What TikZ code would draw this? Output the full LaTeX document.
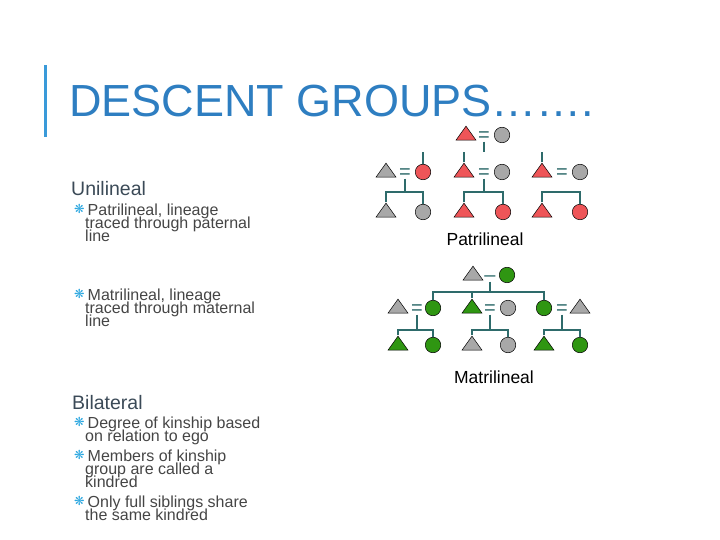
\documentclass[tikz,border=0pt]{standalone}
\usepackage{fontspec}
\setmainfont{Liberation Sans}
\newfontfamily\symfont{DejaVu Sans}
\usetikzlibrary{shapes.geometric}
\setlength{\lineskiplimit}{-20pt}

\definecolor{titleblue}{HTML}{2E7EC1}
\definecolor{barblue}{HTML}{3A9AD9}
\definecolor{bulblue}{HTML}{2AA6DF}
\definecolor{headgray}{HTML}{3B4A57}
\definecolor{bodygray}{HTML}{454545}
\definecolor{kin}{HTML}{2E6B6B}
\definecolor{kred}{HTML}{EE5558}
\definecolor{kgray}{HTML}{A8A8A8}
\definecolor{kgreen}{HTML}{2F9612}

\newcommand{\bul}{\llap{\raisebox{1.2pt}{\textcolor{bulblue}{\symfont\fontsize{12.5}{12.5}\selectfont ❋}}\hspace{0.5pt}}\hspace{2.5pt}}

\tikzset{
  male/.style={isosceles triangle, isosceles triangle stretches, shape border rotate=90,
    minimum width=20pt, minimum height=14pt, inner sep=0pt, draw=black, line width=0.5pt},
  female/.style={circle, minimum size=15.5pt, inner sep=0pt, draw=black, line width=0.5pt},
  wed/.style={text=kin, font=\fontsize{20}{20}\selectfont, inner sep=0pt,
    text height=13pt, text depth=0pt},
  kinline/.style={draw=kin, line width=1.1pt},
  headtext/.style={anchor=base west, inner sep=0pt, text=headgray,
    font=\fontsize{19.5}{19.5}\selectfont},
  itemtext/.style={anchor=north west, inner sep=0pt, align=left, text=bodygray,
    font=\fontsize{16}{13.4}\selectfont},
  treename/.style={anchor=base, inner sep=0pt, font=\fontsize{17.5}{17.5}\selectfont}
}

\begin{document}
\begin{tikzpicture}[x=1pt,y=-1pt]
\useasboundingbox (0,0) rectangle (720,540);

\fill[barblue] (43.5,65) rectangle (46.5,137);
\node[anchor=base west, inner sep=0pt, text=titleblue, font=\fontsize{45}{45}\selectfont]
  (title) at (69,117) {DESCENT GROUPS…….};

\node[headtext] (uni) at (71,196) {Unilineal};
\node[itemtext] (patri) at (85,203.4) {\bul Patrilineal, lineage\\traced through paternal\\line};
\node[itemtext] (matri) at (85,288.4) {\bul Matrilineal, lineage\\traced through maternal\\line};

\node[headtext] (bil) at (72,409) {Bilateral};
\node[itemtext] (degree) at (85,416.4) {\bul Degree of kinship based\\on relation to ego};
\node[itemtext] (members) at (85,449.4) {\bul Members of kinship\\group are called a\\kindred};
\node[itemtext] (only) at (85,495.4) {\bul Only full siblings share\\the same kindred};

% patrilineal
\def\ya{135}
\def\yb{172}
\def\yc{212}
\def\yj{152}
\def\yk{192}

\node[male, fill=kred] (pta) at (466,\ya) {};
\node[wed] (ptw) at (484,\ya) {=};
\node[female, fill=kgray] (ptb) at (502,\ya) {};

\node[male, fill=kgray] (pla) at (386,\yb) {};
\node[wed] (plw) at (405,\yb) {=};
\node[female, fill=kred] (plb) at (423,\yb) {};
\node[male, fill=kred] (pma) at (464,\yb) {};
\node[wed] (pmw) at (484,\yb) {=};
\node[female, fill=kgray] (pmb) at (502,\yb) {};
\node[male, fill=kred] (pra) at (542,\yb) {};
\node[wed] (prw) at (562,\yb) {=};
\node[female, fill=kgray] (prb) at (580,\yb) {};

\node[male, fill=kgray] (plc) at (386,\yc) {};
\node[female, fill=kgray] (pld) at (423,\yc) {};
\node[male, fill=kred] (pmc) at (464,\yc) {};
\node[female, fill=kred] (pmd) at (503,\yc) {};
\node[male, fill=kred] (prc) at (542,\yc) {};
\node[female, fill=kred] (prd) at (580,\yc) {};

\coordinate (ptj) at (484,\yj);
\coordinate (plj) at (405,\yk);
\coordinate (pmj) at (484,\yk);
\coordinate (prj) at (562,\yk);
\draw[kinline] (ptw.south) -- (ptj);
\draw[kinline] (plb.north) -- (plb.north |- ptj);
\draw[kinline] (pma.apex) -- (pma.apex |- ptj);
\draw[kinline] (pra.apex) -- (pra.apex |- ptj);
\draw[kinline] (plw.south) -- (plj);
\draw[kinline] (plc.apex) |- (plj) -| (pld.north);
\draw[kinline] (pmw.south) -- (pmj);
\draw[kinline] (pmc.apex) |- (pmj) -| (pmd.north);
\draw[kinline] (prc.apex) |- (prj) -| (prd.north);

\node[treename] (pname) at (485,245) {Patrilineal};

% matrilineal
\def\ma{275}
\def\mb{308}
\def\mc{345}
\def\mj{292}
\def\mk{330}

\node[male, fill=kgray] (mta) at (473,\ma) {};
\node[wed] (mtw) at (490,\ma) {–};
\node[female, fill=kgreen] (mtb) at (507,\ma) {};

\node[male, fill=kgray] (mla) at (398,\mb) {};
\node[wed] (mlw) at (417,\mb) {=};
\node[female, fill=kgreen] (mlb) at (433,\mb) {};
\node[male, fill=kgreen] (mma) at (472,\mb) {};
\node[wed] (mmw) at (490,\mb) {=};
\node[female, fill=kgray] (mmb) at (508,\mb) {};
\node[female, fill=kgreen] (mra) at (544,\mb) {};
\node[wed] (mrw) at (562,\mb) {=};
\node[male, fill=kgray] (mrb) at (580,\mb) {};

\node[male, fill=kgreen] (mlc) at (398,\mc) {};
\node[female, fill=kgreen] (mld) at (433,\mc) {};
\node[male, fill=kgray] (mmc) at (472,\mc) {};
\node[female, fill=kgray] (mmd) at (508,\mc) {};
\node[male, fill=kgreen] (mrc) at (544,\mc) {};
\node[female, fill=kgreen] (mrd) at (580,\mc) {};

\coordinate (mtj) at (490,\mj);
\coordinate (mlj) at (417,\mk);
\coordinate (mmj) at (490,\mk);
\coordinate (mrj) at (562,\mk);
\draw[kinline] (mtw.south) -- (mtj);
\draw[kinline] (mlb.north) |- (mtj) -| (mra.north);
\draw[kinline] (mma.apex) -- (mma.apex |- mtj);
\draw[kinline] (mlw.south) -- (mlj);
\draw[kinline] (mlc.apex) |- (mlj) -| (mld.north);
\draw[kinline] (mmw.south) -- (mmj);
\draw[kinline] (mmc.apex) |- (mmj) -| (mmd.north);
\draw[kinline] (mrw.south) -- (mrj);
\draw[kinline] (mrc.apex) |- (mrj) -| (mrd.north);

\node[treename] (mname) at (494,383) {Matrilineal};
\end{tikzpicture}
\end{document}
